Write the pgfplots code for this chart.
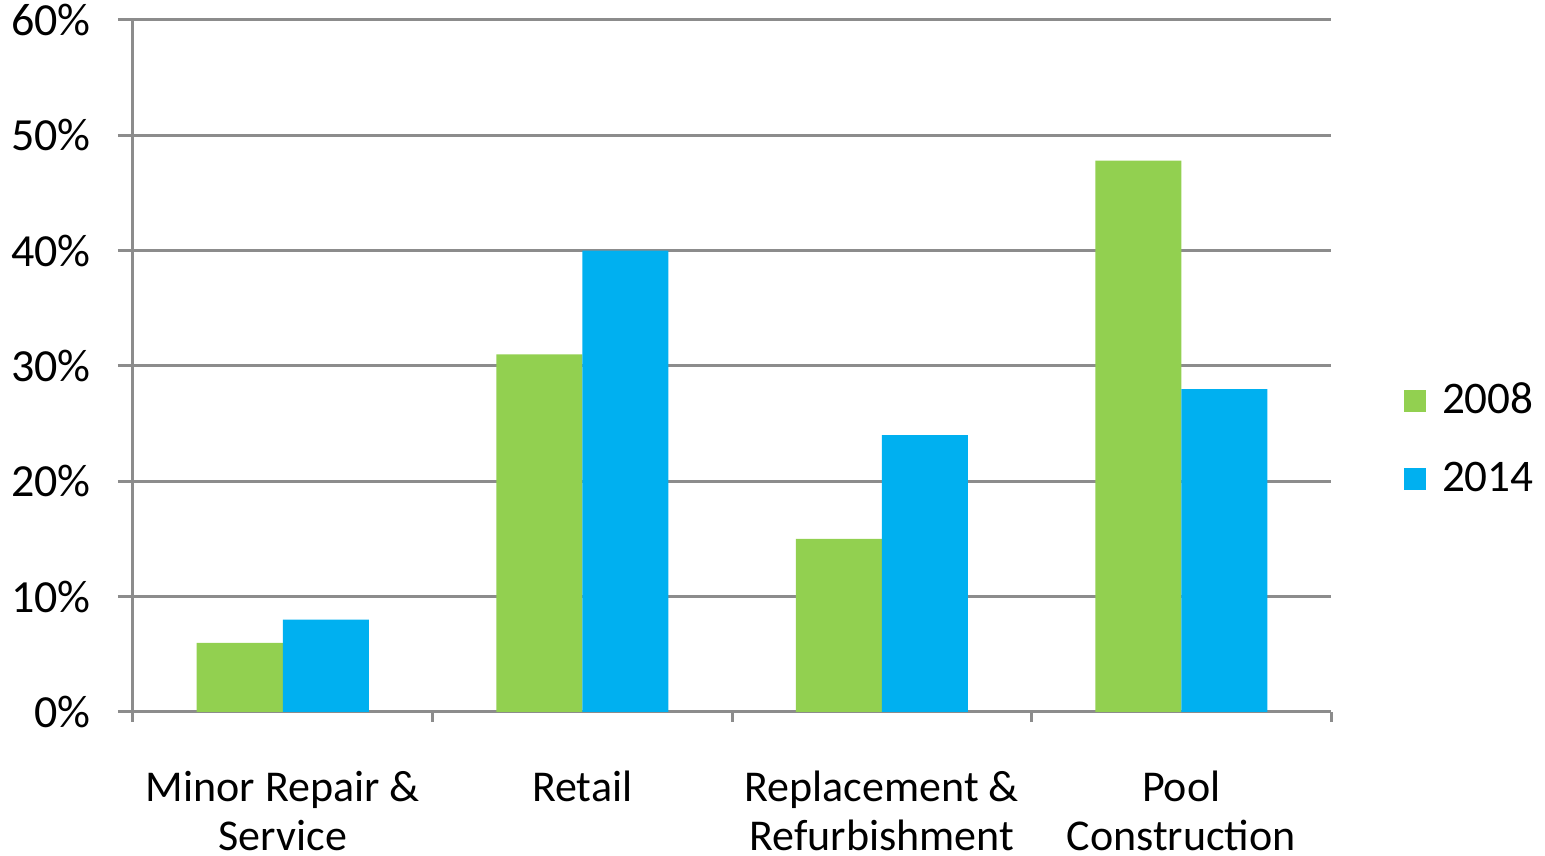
\documentclass[border=0pt]{standalone}
\usepackage{pgfplots}
\pgfplotsset{compat=1.18}
\usepackage{fontspec}
\setmainfont{Carlito}
\definecolor{cgreen}{HTML}{92D050}
\definecolor{cblue}{HTML}{00B0F0}
\definecolor{cgrid}{HTML}{8C8C8C}
\begin{document}
\begin{tikzpicture}
\path[use as bounding box] (-33.25pt,-36pt) rectangle (353pt,178pt);
\begin{axis}[
    at={(0,0)}, anchor=south west,
    scale only axis,
    width=299.5pt, height=173pt,
    ybar=0pt, bar width=21.5pt,
    xmin=-0.5, xmax=3.5,
    ymin=0, ymax=60,
    ytick={0,10,...,60},
    yticklabel={\pgfmathprintnumber{\tick}\%},
    /pgf/number format/assume math mode=true,
    xtick={0,1,2,3},
    xticklabels={Minor Repair \&\\Service, Retail, Replacement \&\\Refurbishment, Pool\\Construction},
    x tick label style={align=center, font=\fontsize{11}{12.3}\selectfont, yshift=-7.5pt},
    y tick label style={font=\fontsize{11.5}{13}\selectfont, xshift=-3.25pt},
    major x tick style={draw=none},
    minor xtick={-0.5,0.5,1.5,2.5,3.5},
    tick align=outside,
    major tick length=3.75pt,
    minor tick length=2.5pt,
    tick style={cgrid, line width=0.75pt},
    axis x line*=bottom, axis y line*=left,
    axis line style={cgrid, line width=0.75pt, -},
    ymajorgrids,
    grid style={cgrid, line width=0.75pt},
    clip=false,
    legend style={at={(1.0503,0.393)}, anchor=west, draw=none, fill=none,
        font=\fontsize{11.3}{14}\selectfont, row sep=6.5pt},
    legend image code/.code={\fill[#1] (0pt,-2.75pt) rectangle (5.5pt,2.75pt); \path (7.5pt,0pt);},
]
\addplot[fill=cgreen, draw=none] coordinates {(0,6) (1,31) (2,15) (3,47.8)};
\addplot[fill=cblue, draw=none] coordinates {(0,8) (1,40) (2,24) (3,28)};
\legend{2008,2014}
\end{axis}
\end{tikzpicture}
\end{document}
